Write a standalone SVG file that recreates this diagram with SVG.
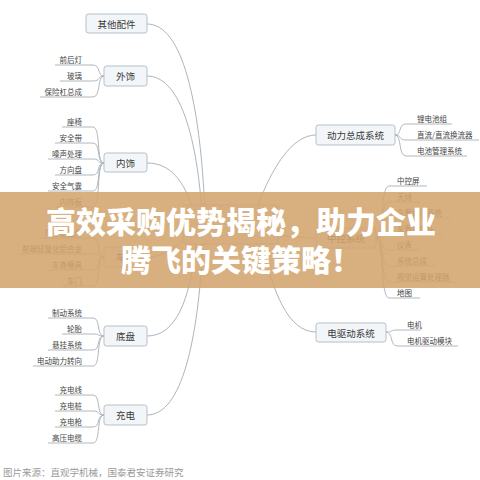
<svg xmlns="http://www.w3.org/2000/svg" width="480" height="480" viewBox="0 0 480 480">
<style>
.bg{fill:#ffffff}
.box{fill:#f3f6f9;stroke:#b5bfc9;stroke-width:1}
.bt{font-family:"Noto Sans CJK SC","Noto Sans",sans-serif;font-size:9.5px;fill:#3a3a3a;text-anchor:middle;dominant-baseline:central}
.lf{font-family:"Noto Sans CJK SC","Noto Sans",sans-serif;font-size:7.5px;fill:#444}
.lr{text-anchor:end}
.ln{fill:none;stroke:#a4acb3;stroke-width:0.9}
.ul{fill:none;stroke:#a9b0b7;stroke-width:0.9}
.src{font-family:"Noto Sans CJK SC","Noto Sans",sans-serif;font-size:9.5px;fill:#9a9a9a}
.ttl{font-family:"Noto Sans CJK SC","Noto Sans",sans-serif;font-size:30px;font-weight:900;fill:#ffffff;text-anchor:middle}
</style>
<rect class="bg" x="0" y="0" width="480" height="480"/>

<g id="connectors">
<path class="ln" d="M147,24 C182,24 200,100 205,212"/>
<path class="ln" d="M147,76 C178,76 196,130 202,212"/>
<path class="ln" d="M147,163 C170,163 184,180 194,212"/>
<path class="ln" d="M147,257 C165,257 176,246 186,238"/>
<path class="ln" d="M147,336 C176,336 190,300 196,244"/>
<path class="ln" d="M147,415 C182,415 198,340 203,244"/>
<path class="ln" d="M316,135 C292,135 272,168 258,205"/>
<path class="ln" d="M278,236 C295,236 300,238 316,238"/>
<path class="ln" d="M316,332 C288,332 273,292 262,244"/>
<!-- 外饰 leaves -->
<path class="ul" d="M104,76 C97,76 101,65 93,65 H55"/>
<path class="ul" d="M104,76 C97,76 101,81 93,81 H60"/>
<path class="ul" d="M104,76 C97,76 101,97 93,97 H40"/>
<!-- 内饰 leaves -->
<path class="ul" d="M104,163 C96,163 101,127 93,127 H62"/>
<path class="ul" d="M104,163 C96,163 101,143 93,143 H55"/>
<path class="ul" d="M104,163 C96,163 101,159 93,159 H48"/>
<path class="ul" d="M104,163 C96,163 101,175 93,175 H55"/>
<path class="ul" d="M104,163 C96,163 101,191 93,191 H48"/>
<path class="ul" d="M104,163 C96,163 101,207 93,207 H55"/>
<!-- 车身 leaves -->
<path class="ul" d="M104,257 C96,257 101,238 93,238 H40"/>
<path class="ul" d="M104,257 C96,257 101,254 93,254 H18"/>
<path class="ul" d="M104,257 C96,257 101,270 93,270 H48"/>
<path class="ul" d="M104,257 C96,257 101,286 93,286 H62"/>
<!-- 底盘 leaves -->
<path class="ul" d="M104,336 C96,336 101,318 93,318 H48"/>
<path class="ul" d="M104,336 C96,336 101,334 93,334 H62"/>
<path class="ul" d="M104,336 C96,336 101,350 93,350 H48"/>
<path class="ul" d="M104,336 C96,336 101,366 93,366 H33"/>
<!-- 充电 leaves -->
<path class="ul" d="M104,415 C96,415 101,395 93,395 H55"/>
<path class="ul" d="M104,415 C96,415 101,411 93,411 H55"/>
<path class="ul" d="M104,415 C96,415 101,427 93,427 H55"/>
<path class="ul" d="M104,415 C96,415 101,443 93,443 H48"/>
<!-- 动力总成 leaves -->
<path class="ul" d="M395,135 C402,135 398,124 406,124 H452"/>
<path class="ul" d="M395,135 C402,135 398,140 406,140 H479"/>
<path class="ul" d="M395,135 C402,135 398,156 406,156 H467"/>
<!-- 中控 leaves -->
<path class="ul" d="M376,238 C384,238 380,186 389,186 H427"/>
<path class="ul" d="M376,238 C384,238 380,202 389,202 H420"/>
<path class="ul" d="M376,238 C384,238 380,218 389,218 H450"/>
<path class="ul" d="M376,238 C384,238 380,234 389,234 H442"/>
<path class="ul" d="M376,238 C384,238 380,250 389,250 H420"/>
<path class="ul" d="M376,238 C384,238 380,266 389,266 H435"/>
<path class="ul" d="M376,238 C384,238 380,282 389,282 H457"/>
<path class="ul" d="M376,238 C384,238 380,298 389,298 H420"/>
<!-- 电驱动 leaves -->
<path class="ul" d="M386,332 C393,332 390,330 397,330 H421"/>
<path class="ul" d="M386,332 C393,332 390,346 397,346 H458"/>
</g>

<g id="center"><rect class="box" x="183" y="205" width="95" height="39" rx="3"/></g>

<g id="n-qita"><rect class="box" x="86" y="14" width="61" height="19" rx="2.5"/><text class="bt" x="116.5" y="24">其他配件</text></g>
<g id="n-waishi"><rect class="box" x="104" y="66" width="43" height="20" rx="2.5"/><text class="bt" x="125.5" y="76">外饰</text>
<text class="lf lr" x="82" y="63">前后灯</text><text class="lf lr" x="82" y="79">玻璃</text><text class="lf lr" x="82" y="95">保险杠总成</text></g>
<g id="n-neishi"><rect class="box" x="104" y="153" width="43" height="19" rx="2.5"/><text class="bt" x="125.5" y="162.5">内饰</text>
<text class="lf lr" x="82" y="125">座椅</text><text class="lf lr" x="82" y="141">安全带</text><text class="lf lr" x="82" y="157">噪声处理</text><text class="lf lr" x="82" y="173">方向盘</text><text class="lf lr" x="82" y="189">安全气囊</text><text class="lf lr" x="82" y="205">内饰板</text></g>
<g id="n-cheshen"><rect class="box" x="104" y="247" width="43" height="20" rx="2.5"/><text class="bt" x="125.5" y="257">车身</text>
<text class="lf lr" x="82" y="236">车身覆盖件</text><text class="lf lr" x="82" y="252">前端轻量化铝合金</text><text class="lf lr" x="82" y="268">车身模具</text><text class="lf lr" x="82" y="284">车门</text></g>
<g id="n-dipan"><rect class="box" x="104" y="326" width="43" height="20" rx="2.5"/><text class="bt" x="125.5" y="336">底盘</text>
<text class="lf lr" x="82" y="316">制动系统</text><text class="lf lr" x="82" y="332">轮胎</text><text class="lf lr" x="82" y="348">悬挂系统</text><text class="lf lr" x="82" y="364">电动助力转向</text></g>
<g id="n-chongdian"><rect class="box" x="104" y="405" width="43" height="20" rx="2.5"/><text class="bt" x="125.5" y="415">充电</text>
<text class="lf lr" x="82" y="393">充电线</text><text class="lf lr" x="82" y="409">充电桩</text><text class="lf lr" x="82" y="425">充电枪</text><text class="lf lr" x="82" y="441">高压电缆</text></g>
<g id="n-dongli"><rect class="box" x="316" y="125" width="79" height="20" rx="2.5"/><text class="bt" x="355.5" y="135">动力总成系统</text>
<text class="lf" x="417" y="122">锂电池组</text><text class="lf" x="417" y="138">直流/直流换流器</text><text class="lf" x="417" y="154">电池管理系统</text></g>
<g id="n-zhongkong"><rect class="box" x="316" y="228" width="60" height="20" rx="2.5"/><text class="bt" x="346" y="238">中控系统</text>
<text class="lf" x="397" y="184">中控屏</text><text class="lf" x="397" y="200">天线</text><text class="lf" x="397" y="216">车载娱乐系统</text><text class="lf" x="397" y="232">车载摄像头</text><text class="lf" x="397" y="248">仪表</text><text class="lf" x="397" y="264">系统总成</text><text class="lf" x="397" y="280">视觉运算处理器</text><text class="lf" x="397" y="296">地图</text></g>
<g id="n-dianqu"><rect class="box" x="316" y="323" width="70" height="19" rx="2.5"/><text class="bt" x="351" y="332.5">电驱动系统</text>
<text class="lf" x="407" y="328">电机</text><text class="lf" x="407" y="344">电机驱动模块</text></g>

<text class="src" x="3" y="476">图片来源：直观学机械，国泰君安证券研究</text>

<rect x="0" y="192" width="480" height="96" fill="#d3a46d" opacity="0.88"/>
<text class="ttl" x="241" y="233">高效采购优势揭秘，助力企业</text>
<text class="ttl" x="241" y="271">腾飞的关键策略！</text>
</svg>
